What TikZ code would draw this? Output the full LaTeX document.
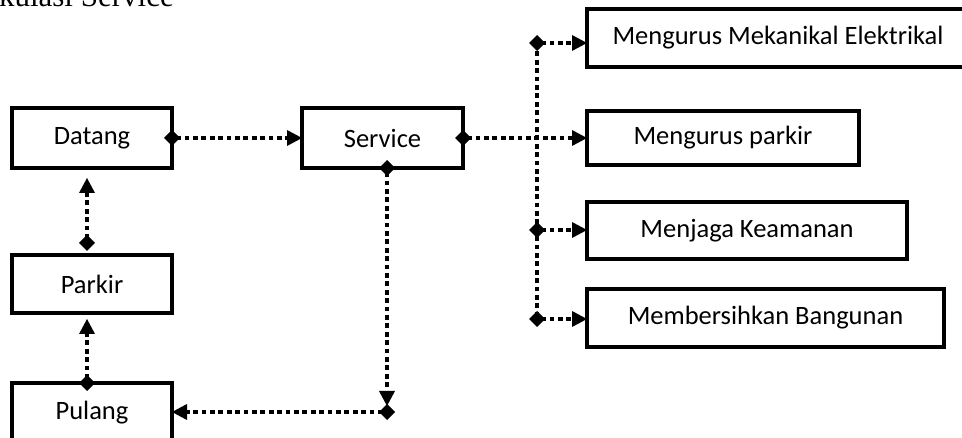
\documentclass[tikz,border=0pt]{standalone}
\usepackage{fontspec}
\setmainfont{Carlito}
\newfontfamily\headfont{Liberation Serif}
\usetikzlibrary{arrows.meta}

\tikzset{
  box/.style={draw, line width=3.6pt, outer sep=0pt, inner sep=0pt,
    font=\fontsize{26.5}{31}\selectfont},
  dotline/.style={line width=3.8pt, dash pattern=on 4.8pt off 3.6pt},
  conn/.style={dotline,
    {Diamond[length=16pt,width=16pt,line width=0pt]}-{Triangle[length=15pt,width=16pt,line width=0pt]},
    shorten <=-8pt},
}

\begin{document}
\begin{tikzpicture}[x=1pt,y=-1pt]
\useasboundingbox (0,0) rectangle (962,438);

% heading (runs off the top edge)
\node[anchor=base east, inner sep=0pt, font=\headfont\fontsize{31}{36}\selectfont] (title) at (174,7) {kulasi Service};

% main flow boxes
\node[box, minimum width=160, minimum height=60] (datang)  at (92,138)   {Datang};
\node[box, minimum width=161, minimum height=60] (service) at (382.5,138) {Service};
\node[box, minimum width=160, minimum height=58] (parkir)  at (92,284)   {Parkir};
\node[box, minimum width=160, minimum height=60] (pulang)  at (92,413)   {Pulang};

% service tasks
\node[box, minimum width=382, minimum height=58] (mek)     at (778,38)    {Mengurus Mekanikal Elektrikal};
\node[box, minimum width=272, minimum height=54] (mpark)   at (723,138)   {Mengurus parkir};
\node[box, minimum width=320, minimum height=57] (jaga)    at (747,230.5) {Menjaga Keamanan};
\node[box, minimum width=357, minimum height=58] (bersih)  at (765.5,318) {Membersihkan Bangunan};

% branch points
\coordinate (b1) at (537,43);
\coordinate (b3) at (537,230);
\coordinate (b4) at (537,319);
\coordinate (corner) at (387,412);

% distribution trunk
\draw[dotline] (b1) -- (b4);

% connectors
\draw[conn] (datang.east) -- (service.west);
\draw[conn] (service.east) -- (mpark.west);
\draw[conn] (b1) -- (b1 -| mek.west);
\draw[conn] (b3) -- (b3 -| jaga.west);
\draw[conn] (b4) -- (b4 -| bersih.west);
\draw[conn, shorten >=6pt] (corner |- service.south) -- (corner);
\draw[conn] (corner) -- (corner -| pulang.east);
\draw[conn] ([xshift=-5pt,yshift=12pt]parkir.north) -- ([xshift=-5pt,yshift=-10pt]datang.south);
\draw[conn] ([xshift=-5pt]pulang.north) -- ([xshift=-5pt,yshift=-6pt]parkir.south);
\end{tikzpicture}
\end{document}
